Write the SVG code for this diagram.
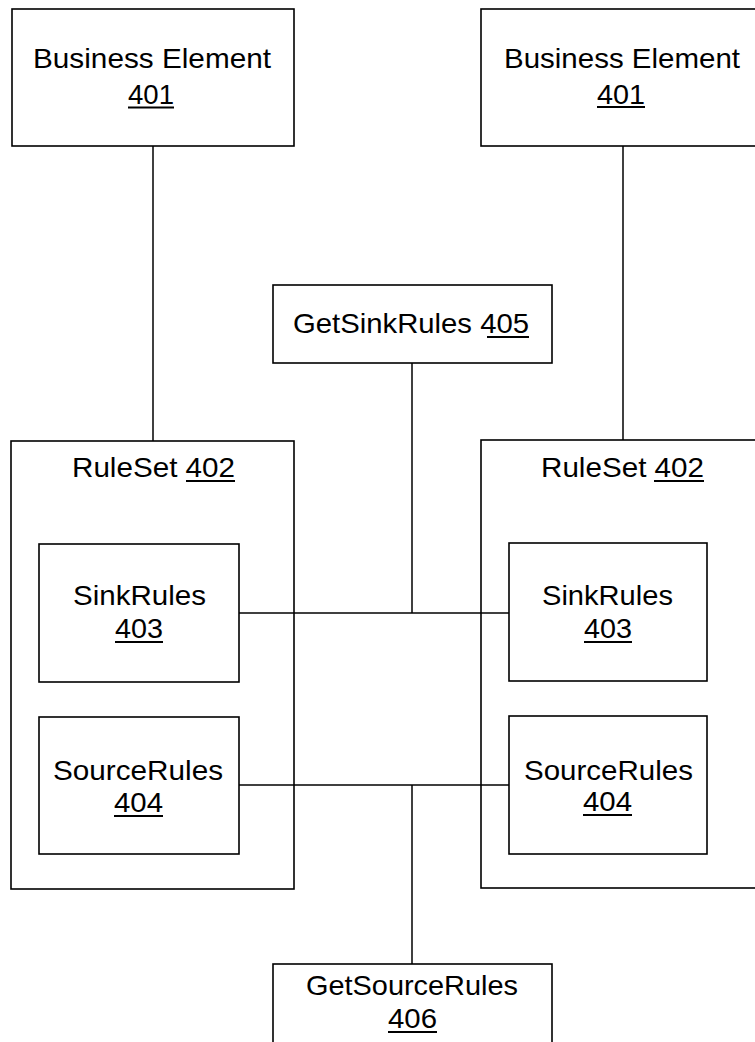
<svg xmlns="http://www.w3.org/2000/svg" width="755" height="1042" viewBox="0 0 755 1042">
<style>
.box{fill:#fff;stroke:#000;stroke-width:1.6}
.con{stroke:#000;stroke-width:1.5;fill:none}
.t{font-family:"Liberation Sans",Arial,sans-serif;font-size:28px;fill:#000}
.u{stroke:#000;stroke-width:2}
</style>
<rect width="755" height="1042" fill="#fff"/>
<g id="be-left">
<rect class="box" x="12" y="9" width="282" height="137"/>
<text class="t" x="33" y="68" textLength="238" lengthAdjust="spacingAndGlyphs">Business Element</text>
<text class="t" x="128" y="104" textLength="46" lengthAdjust="spacingAndGlyphs">401</text>
<line class="u" x1="128" y1="107.5" x2="174" y2="107.5"/>
</g>
<g id="be-right">
<rect class="box" x="481" y="9" width="283" height="137"/>
<text class="t" x="504" y="68" textLength="236" lengthAdjust="spacingAndGlyphs">Business Element</text>
<text class="t" x="597" y="104" textLength="48" lengthAdjust="spacingAndGlyphs">401</text>
<line class="u" x1="597" y1="107" x2="645" y2="107"/>
</g>
<g id="getsink">
<rect class="box" x="273" y="285" width="279" height="78"/>
<text class="t" x="293" y="333" textLength="236" lengthAdjust="spacingAndGlyphs">GetSinkRules 405</text>
<line class="u" x1="487" y1="337" x2="529" y2="337"/>
</g>
<g id="ruleset-left">
<rect class="box" x="11" y="441" width="283" height="448"/>
<text class="t" x="72" y="477" textLength="163" lengthAdjust="spacingAndGlyphs">RuleSet 402</text>
<line class="u" x1="186" y1="481" x2="235" y2="481"/>
</g>
<g id="sink-left">
<rect class="box" x="39" y="544" width="200" height="138"/>
<text class="t" x="73" y="605" textLength="133" lengthAdjust="spacingAndGlyphs">SinkRules</text>
<text class="t" x="115" y="638" textLength="48" lengthAdjust="spacingAndGlyphs">403</text>
<line class="u" x1="115" y1="642" x2="163" y2="642"/>
</g>
<g id="source-left">
<rect class="box" x="39" y="717" width="200" height="137"/>
<text class="t" x="53" y="780" textLength="170" lengthAdjust="spacingAndGlyphs">SourceRules</text>
<text class="t" x="114" y="812" textLength="49" lengthAdjust="spacingAndGlyphs">404</text>
<line class="u" x1="114" y1="816" x2="163" y2="816"/>
</g>
<g id="ruleset-right">
<rect class="box" x="481" y="440" width="283" height="448"/>
<text class="t" x="541" y="477" textLength="163" lengthAdjust="spacingAndGlyphs">RuleSet 402</text>
<line class="u" x1="654" y1="481" x2="704" y2="481"/>
</g>
<g id="sink-right">
<rect class="box" x="509" y="543" width="198" height="138"/>
<text class="t" x="542" y="605" textLength="131" lengthAdjust="spacingAndGlyphs">SinkRules</text>
<text class="t" x="584" y="638" textLength="48" lengthAdjust="spacingAndGlyphs">403</text>
<line class="u" x1="584" y1="642" x2="632" y2="642"/>
</g>
<g id="source-right">
<rect class="box" x="509" y="716" width="198" height="138"/>
<text class="t" x="524" y="780" textLength="169" lengthAdjust="spacingAndGlyphs">SourceRules</text>
<text class="t" x="583" y="811" textLength="49" lengthAdjust="spacingAndGlyphs">404</text>
<line class="u" x1="583" y1="815" x2="632" y2="815"/>
</g>
<g id="getsource">
<rect class="box" x="273" y="964" width="279" height="90"/>
<text class="t" x="306" y="995" textLength="212" lengthAdjust="spacingAndGlyphs">GetSourceRules</text>
<text class="t" x="388" y="1028" textLength="49" lengthAdjust="spacingAndGlyphs">406</text>
<line class="u" x1="388" y1="1032" x2="437" y2="1032"/>
</g>
<g id="connectors">
<line class="con" x1="153" y1="146" x2="153" y2="441"/>
<line class="con" x1="623" y1="146" x2="623" y2="440"/>
<line class="con" x1="412" y1="363" x2="412" y2="613"/>
<line class="con" x1="239" y1="613" x2="509" y2="613"/>
<line class="con" x1="239" y1="785" x2="509" y2="785"/>
<line class="con" x1="412" y1="785" x2="412" y2="964"/>
</g>
</svg>
